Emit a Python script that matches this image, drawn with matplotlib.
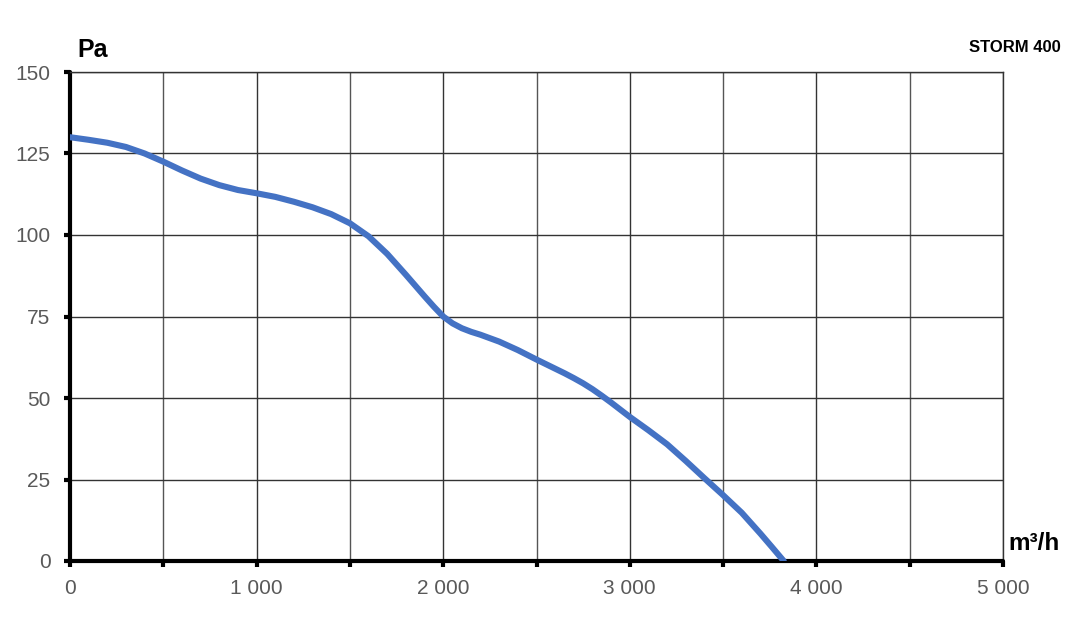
import numpy as np
import matplotlib.pyplot as plt

plt.rcParams['font.family'] = ['Liberation Sans', 'DejaVu Sans']

# Kennlinie STORM 400 (Luftmenge m³/h, Druck Pa)
flow = [0, 100, 200, 300, 400, 500, 600, 700, 800, 900, 1000, 1100, 1200,
        1300, 1400, 1500, 1600, 1700, 1800, 1900, 1950, 2000, 2050, 2100,
        2150, 2200, 2300, 2400, 2500, 2600, 2650, 2700, 2750, 2800, 2850,
        2900, 3000, 3100, 3200, 3300, 3400, 3500, 3600, 3700, 3760, 3825]
pressure = [130, 129.2, 128.3, 127, 125, 122.5, 119.8, 117.3, 115.3, 113.8,
            112.8, 111.7, 110.2, 108.5, 106.4, 103.6, 99.6, 94.2, 87.8, 81.2,
            78.0, 75.0, 72.9, 71.4, 70.3, 69.4, 67.3, 64.7, 61.8, 59.0, 57.6,
            56.1, 54.5, 52.7, 50.7, 48.6, 44.2, 40.1, 35.8, 30.7, 25.4, 20.2,
            14.8, 8.4, 4.4, 0]

x_ticks = [0, 1000, 2000, 3000, 4000, 5000]
x_labels = ["0", "1 000", "2 000", "3 000", "4 000", "5 000"]
y_ticks = [0, 25, 50, 75, 100, 125, 150]

fig = plt.figure(figsize=(10.84, 6.26), dpi=100)
ax = fig.add_axes([70 / 1084, 65 / 626, 933 / 1084, 489 / 626])

ax.plot(flow, pressure, color="#4472C4", linewidth=4.4,
        solid_capstyle="round", solid_joinstyle="round", zorder=3)

ax.set_xlim(0, 5000)
ax.set_ylim(0, 150)
ax.set_xticks(x_ticks)
ax.set_xticklabels(x_labels)
ax.set_xticks(np.arange(500, 5000, 1000), minor=True)
ax.set_yticks(y_ticks)

ax.grid(True, which="major", color="#333333", linewidth=1.0)
ax.grid(True, which="minor", axis="x", color="#555555", linewidth=1.0)

for side in ["top", "right"]:
    ax.spines[side].set_linewidth(1.0)
    ax.spines[side].set_color("#333333")
for side in ["left", "bottom"]:
    ax.spines[side].set_linewidth(3.0)
    ax.spines[side].set_color("black")
    ax.spines[side].set_capstyle("round")

ax.tick_params(axis="both", which="both", direction="out", length=4,
               width=3, color="black", labelsize=15, labelcolor="#595959")
ax.tick_params(axis="x", which="both", pad=9)
ax.tick_params(axis="y", pad=10)

fig.text(93 / 1084, 1 - 50 / 626, "Pa", fontsize=18, fontweight="bold",
         ha="center", va="center")
fig.text(1061 / 1084, 1 - 47 / 626, "STORM 400", fontsize=12,
         fontweight="bold", ha="right", va="center")
fig.text(1008 / 1084, 1 - 544 / 626, "m³/h", fontsize=17.5,
         fontweight="bold", ha="left", va="center")

fig.savefig("out.png", dpi=100)
